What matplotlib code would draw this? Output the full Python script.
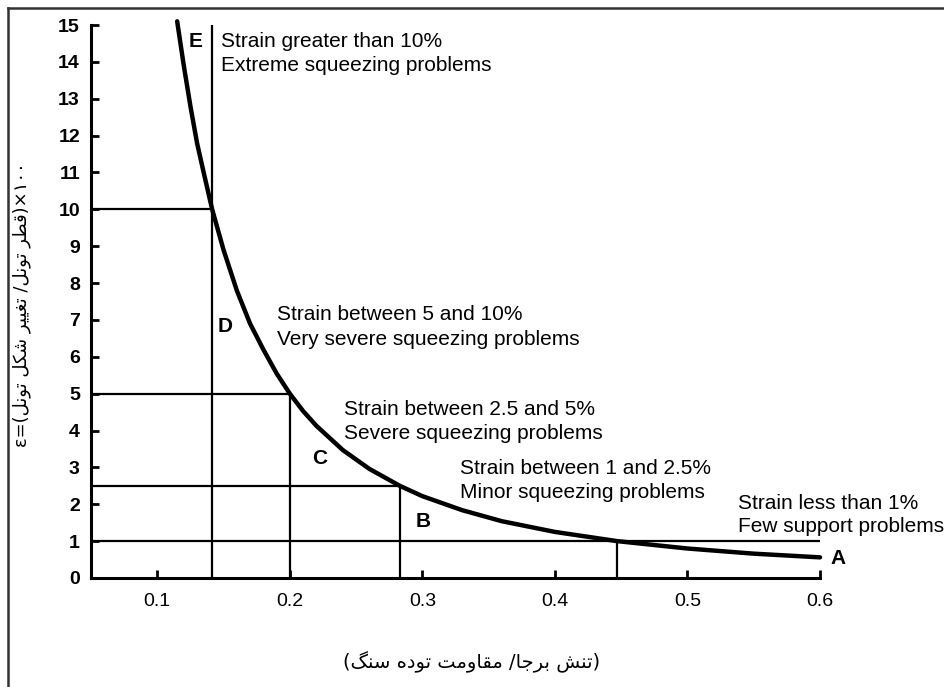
# Squeezing chart: tunnel strain vs. in-situ stress / rock mass strength ratio
import numpy as np
import matplotlib
matplotlib.use('Agg')
import matplotlib.pyplot as plt
from matplotlib.lines import Line2D

plt.rcParams['font.family'] = ['Liberation Sans', 'DejaVu Sans']

# Strain curve (ratio, strain %)
curve_ratio = [0.115, 0.12, 0.125, 0.13, 0.135, 0.1414, 0.15, 0.16, 0.17, 0.18, 0.19,
               0.2, 0.21, 0.22, 0.24, 0.26, 0.283, 0.3, 0.33, 0.36, 0.4, 0.447,
               0.5, 0.55, 0.6]
curve_strain = [15.1, 13.9, 12.8, 11.8, 11.0, 10.0, 8.9, 7.8, 6.9, 6.2, 5.55,
                5.0, 4.53, 4.13, 3.47, 2.96, 2.5, 2.22, 1.84, 1.54, 1.25, 1.0,
                0.8, 0.66, 0.56]

# Class boundaries: strain level and where it meets the curve
bound_strain = [10, 5, 2.5, 1]
bound_ratio = [0.1414, 0.2, 0.283, 0.447]

class_letters = ['E', 'D', 'C', 'B', 'A']
class_text = [('Strain greater than 10%', 'Extreme squeezing problems'),
              ('Strain between 5 and 10%', 'Very severe squeezing problems'),
              ('Strain between 2.5 and 5%', 'Severe squeezing problems'),
              ('Strain between 1 and 2.5%', 'Minor squeezing problems'),
              ('Strain less than 1%', 'Few support problems')]

xticks = [0.1, 0.2, 0.3, 0.4, 0.5, 0.6]
yticks = list(range(0, 16))

# --- minimal Persian shaping (matplotlib does no joining / bidi) ---
FORMS = {  # isolated, final, initial, medial
    '\u0627': ('\uFE8D', '\uFE8E', None, None),
    '\u0628': ('\uFE8F', '\uFE90', '\uFE91', '\uFE92'),
    '\u062A': ('\uFE95', '\uFE96', '\uFE97', '\uFE98'),
    '\u062C': ('\uFE9D', '\uFE9E', '\uFE9F', '\uFEA0'),
    '\u062F': ('\uFEA9', '\uFEAA', None, None),
    '\u0631': ('\uFEAD', '\uFEAE', None, None),
    '\u0633': ('\uFEB1', '\uFEB2', '\uFEB3', '\uFEB4'),
    '\u0634': ('\uFEB5', '\uFEB6', '\uFEB7', '\uFEB8'),
    '\u0637': ('\uFEC1', '\uFEC2', '\uFEC3', '\uFEC4'),
    '\u063A': ('\uFECD', '\uFECE', '\uFECF', '\uFED0'),
    '\u0642': ('\uFED5', '\uFED6', '\uFED7', '\uFED8'),
    '\u0644': ('\uFEDD', '\uFEDE', '\uFEDF', '\uFEE0'),
    '\u0645': ('\uFEE1', '\uFEE2', '\uFEE3', '\uFEE4'),
    '\u0646': ('\uFEE5', '\uFEE6', '\uFEE7', '\uFEE8'),
    '\u0647': ('\uFEE9', '\uFEEA', '\uFEEB', '\uFEEC'),
    '\u0648': ('\uFEED', '\uFEEE', None, None),
    '\u06A9': ('\uFB8E', '\uFB8F', '\uFB90', '\uFB91'),
    '\u06AF': ('\uFB92', '\uFB93', '\uFB94', '\uFB95'),
    '\u06CC': ('\uFBFC', '\uFBFD', '\uFBFE', '\uFBFF'),
}


def shape(word):
    out = []
    n = len(word)
    for i, ch in enumerate(word):
        if ch not in FORMS:
            out.append(ch)
            continue
        iso, fin, ini, med = FORMS[ch]
        prev_j = i > 0 and word[i - 1] in FORMS and FORMS[word[i - 1]][2] is not None
        next_j = ini is not None and i < n - 1 and word[i + 1] in FORMS
        if prev_j and next_j:
            out.append(med)
        elif prev_j:
            out.append(fin)
        elif next_j:
            out.append(ini)
        else:
            out.append(iso)
    return ''.join(reversed(out))


def visual(words):
    # words given in left-to-right display order
    return ' '.join(shape(w) for w in words)


xlabel_fa = '(' + visual(['سنگ', 'توده', 'مقاومت']) + ' /' + visual(['برجا', 'تنش']) + ')'
ylabel_fa = ('\u03b5=(' + visual(['تونل', 'شکل', 'تغییر']) + ' /' +
             visual(['تونل', 'قطر']) + ')\u00d7\u06f1\u06f0\u06f0')

F1 = plt.figure(figsize=(9.44, 6.87), dpi=100)
ax1 = F1.add_axes([91 / 944, 1 - 578 / 687, (820 - 91) / 944, (578 - 25) / 687])

xmin, xmax = 0.05, 0.6
ymin, ymax = 0, 15
lw = 2.2

# boundary lines
for s, r in zip(bound_strain, bound_ratio):
    top = ymax if s == bound_strain[0] else s
    ax1.plot([r, r], [ymin, top], '-', color='black', linewidth=1.6, solid_capstyle='butt')
    right = xmax if s == bound_strain[-1] else r
    ax1.plot([xmin, right], [s, s], '-', color='black', linewidth=1.6, solid_capstyle='butt')

ax1.plot(curve_ratio, curve_strain, '-', color='black', linewidth=3.2,
         solid_capstyle='round', solid_joinstyle='round', clip_on=False)

ax1.set_xlim([xmin, xmax])
ax1.set_ylim([ymin, ymax])
ax1.set_xticks(xticks)
ax1.set_xticklabels(['%.1f' % v for v in xticks])
ax1.set_yticks(yticks)

for axis in ['top', 'right']:
    ax1.spines[axis].set_visible(False)
for axis in ['bottom', 'left']:
    ax1.spines[axis].set_linewidth(lw)
ax1.tick_params(axis='both', direction='in', length=6, width=2)
ax1.tick_params(axis='x', labelsize=14, pad=11)
ax1.tick_params(axis='y', labelsize=14, pad=8)
for lab in ax1.get_yticklabels():
    lab.set_fontweight('bold')

# class letters and descriptions
letter_pos = [(0.1287, 14.54), (0.1514, 6.81), (0.2224, 3.25), (0.3009, 1.52), (0.6136, 0.54)]
text_pos = [(0.1483, 14.54, 13.89), (0.1906, 7.16, 6.46), (0.2412, 4.56, 3.93),
            (0.3281, 2.96, 2.31), (0.538, 2.03, 1.41)]
for lt, (lx, ly) in zip(class_letters, letter_pos):
    ax1.text(lx, ly, lt, fontsize=15, fontweight='bold', ha='center', va='center', clip_on=False)
for (l1, l2), (tx, ty1, ty2) in zip(class_text, text_pos):
    ax1.text(tx, ty1, l1, fontsize=15, ha='left', va='center', clip_on=False)
    ax1.text(tx, ty2, l2, fontsize=15, ha='left', va='center', clip_on=False)

F1.text(472 / 944, 1 - 662 / 687, xlabel_fa, fontsize=14, family='DejaVu Sans',
        ha='center', va='center')
F1.text(22 / 944, 1 - 305 / 687, ylabel_fa, fontsize=13, family='DejaVu Sans',
        ha='center', va='center', rotation=90)

# outer frame, left and top edges
F1.add_artist(Line2D([8 / 944, 8 / 944], [0, 1 - 8 / 687], transform=F1.transFigure,
                     color='#333333', linewidth=1.8))
F1.add_artist(Line2D([8 / 944, 1], [1 - 8 / 687, 1 - 8 / 687], transform=F1.transFigure,
                     color='#333333', linewidth=1.8))

plt.savefig('out.png', dpi=100)
